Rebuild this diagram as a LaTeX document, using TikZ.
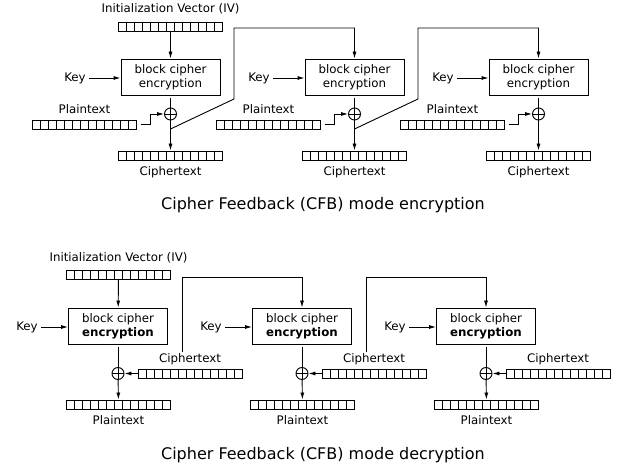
\documentclass[tikz,border=0pt]{standalone}
\usepackage{fontspec}
\setmainfont{DejaVu Sans}
\usetikzlibrary{arrows.meta}
\begin{document}
\begin{tikzpicture}[x=1pt,y=-1pt,line width=.9pt,>={Latex[length=7pt,width=4pt]},
	every node/.style={font=\fontsize{11.8}{14.2}\selectfont},
	cipherbox/.style={draw,minimum width=99pt,minimum height=36pt,align=center,inner sep=0pt},
	register/.style={draw,minimum width=104pt,minimum height=9pt,inner sep=0pt,
		path picture={\foreach \k in {1,...,12}
			\draw ([xshift=\k*8pt]path picture bounding box.north west) -- ([xshift=\k*8pt]path picture bounding box.south west);}},
	xorgate/.style={draw,circle,minimum size=12pt,inner sep=0pt,
		path picture={\draw (path picture bounding box.north) -- (path picture bounding box.south)
			(path picture bounding box.west) -- (path picture bounding box.east);}},
	headline/.style={font=\fontsize{16}{19}\selectfont,anchor=base}]
	\useasboundingbox (0,0) rectangle (625,470);

	\node[anchor=base] (ivl) at (170.5,13) {Initialization Vector (IV)};
	\node[register] (iv) at (170.5,26.5) {};
	\foreach \i in {0,1,2}{
		\begin{scope}[xshift=\i*184pt]
		\node[cipherbox] (b\i) at (170.5,77) {block cipher\\encryption};
		\node (k\i) at (75,78) {Key};
		\node[xorgate] (x\i) at (170.5,114) {};
		\node[register] (p\i) at (84.5,124.5) {};
		\node[anchor=base] (pl\i) at (84.5,114) {Plaintext};
		\node[register] (c\i) at (170.5,155.5) {};
		\node[anchor=base] (cl\i) at (170.5,176) {Ciphertext};
		\coordinate (f\i) at (170.5,129);
		\draw[->] (k\i) -- (k\i -| b\i.west);
		\draw[shorten <=3pt] (b\i.south) -- (x\i.north);
		\draw[->] (x\i) -- (c\i);
		\draw[->] ([xshift=4.5pt]p\i.east) -- ++(9,0) |- (x\i.west);
		\end{scope}
	}
	\draw[->] (iv) -- (b0);
	\foreach \i/\j in {0/1,1/2}
		\draw[->] (f\i) -- ++(63.5,-30) -- ++(0,-71) -| (b\j.north);
	\node[headline] (enct) at (323,210) {Cipher Feedback (CFB) mode encryption};

	\node[anchor=base] (divl) at (118.5,261.5) {Initialization Vector (IV)};
	\node[register] (div) at (118.5,275) {};
	\foreach \i in {0,1,2}{
		\begin{scope}[xshift=\i*184pt]
		\node[cipherbox] (db\i) at (118,326) {block cipher\\\textbf{encryption}};
		\node (dk\i) at (27,327) {Key};
		\node[xorgate] (dx\i) at (118,373.5) {};
		\node[register] (dc\i) at (190,373.5) {};
		\node[anchor=base] (dcl\i) at (190,362.5) {Ciphertext};
		\node[register] (dp\i) at (118.5,404.5) {};
		\node[anchor=base] (dpl\i) at (118.5,425) {Plaintext};
		\coordinate (g\i) at (182,352);
		\draw[->] (dk\i) -- (dk\i -| db\i.west);
		\draw[shorten <=3pt] (db\i.south) -- (dx\i.north);
		\draw[->] (dx\i) -- (dp\i);
		\draw[->] (dc\i.west) -- (dx\i.east);
		\end{scope}
	}
	\draw[->] (div) -- (db0);
	\foreach \i/\j in {0/1,1/2}
		\draw[->] (g\i) -- ++(0,-75) -| (db\j.north);
	\node[headline] (dect) at (323,460) {Cipher Feedback (CFB) mode decryption};
\end{tikzpicture}
\end{document}
